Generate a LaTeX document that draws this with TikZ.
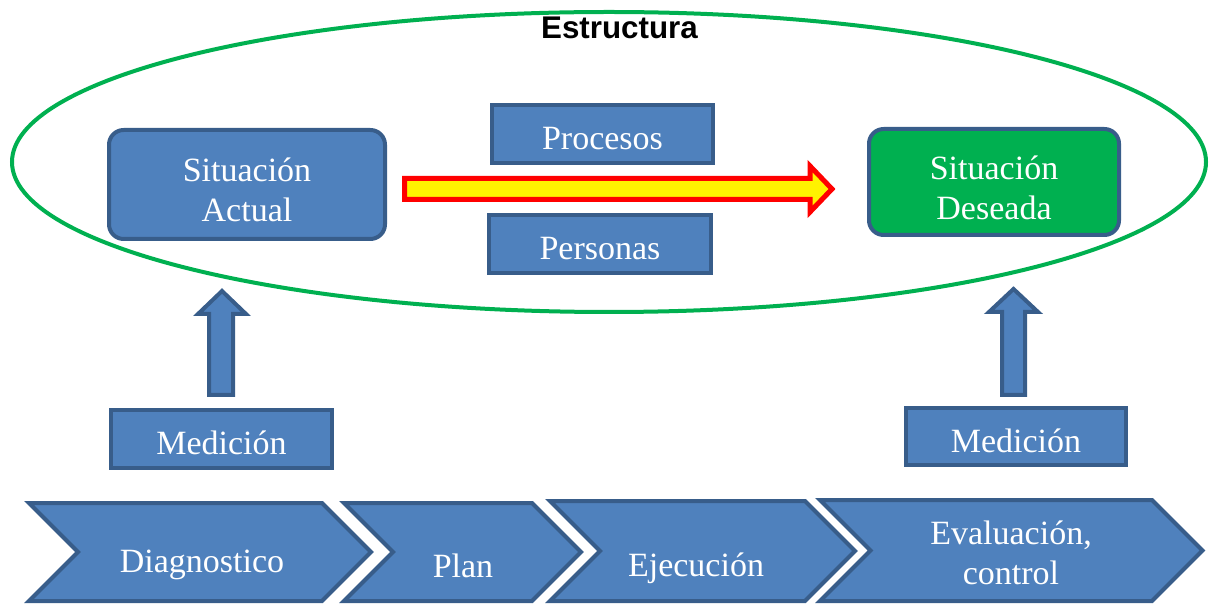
\documentclass[tikz,border=0pt]{standalone}
\usepackage{fontspec}
\setmainfont{Liberation Serif}
\newfontfamily\headfont{Liberation Sans}
\usetikzlibrary{shapes.geometric}
\definecolor{boxblue}{RGB}{79,129,189}
\definecolor{edgeblue}{RGB}{56,93,138}
\definecolor{estgreen}{RGB}{0,176,80}
\begin{document}
\begin{tikzpicture}[x=0.75pt,y=-0.75pt,
  txt/.style={text=white, font=\fontsize{25.5}{30}\selectfont, align=center, inner sep=0pt},
  blk/.style={txt, draw=edgeblue, fill=boxblue, line width=3pt, text height=24pt, text depth=0pt},
  rbox/.style={blk, rounded corners=11pt, text height=56pt},
  shapeblue/.style={draw=edgeblue, fill=boxblue, line width=3pt, line join=miter},
  bigarrow/.style={draw=red, fill=yellow, line width=3.75pt, line join=miter}
]
\useasboundingbox (0,0) rectangle (1209,605);

% frame ellipse
\node[ellipse, draw=estgreen, line width=3pt, inner sep=0pt,
      minimum width=895.5pt, minimum height=225pt] (frame) at (609,162) {};
\node[font=\headfont\bfseries\fontsize{23.5}{27}\selectfont, inner sep=0pt] (title) at (619.5,28) {Estructura};

% boxes
\node[rbox, minimum width=207pt, minimum height=81.75pt] (actual) at (247,184.5) {Situación\\Actual};
\node[rbox, fill=estgreen, minimum width=187.5pt, minimum height=79.5pt] (deseada) at (994,182) {Situación\\Deseada};
\node[blk, minimum width=165.75pt, minimum height=43.5pt] (procesos) at (602.5,134) {Procesos};
\node[blk, minimum width=166.5pt, minimum height=43.5pt] (personas) at (600,244) {Personas};
\node[blk, minimum width=165.75pt, minimum height=43.5pt] (medL) at (221.5,439) {Medición};
\node[blk, minimum width=165pt, minimum height=42.75pt] (medR) at (1016,436.5) {Medición};

% yellow block arrow
\draw[bigarrow] (404.5,178.5) -- (810,178.5) -- (810,166) -- (832,189) -- (810,212) -- (810,199.5) -- (404.5,199.5) -- cycle;

% up block arrows
\draw[shapeblue] (209,395) -- (209,314) -- (198,314) -- (222,291) -- (246,314) -- (233,314) -- (233,395) -- cycle;
\draw[shapeblue] (1002,395) -- (1002,312) -- (989,312) -- (1013.5,289) -- (1038,312) -- (1025,312) -- (1025,395) -- cycle;

% chevrons
\draw[shapeblue] (29,503) -- (322,503) -- (371,552) -- (322,601) -- (29,601) -- (78,552) -- cycle;
\draw[shapeblue] (344,503) -- (532,503) -- (581,552) -- (532,601) -- (344,601) -- (393,552) -- cycle;
\draw[shapeblue] (550,501) -- (805,501) -- (855,551) -- (805,601) -- (550,601) -- (600,551) -- cycle;
\draw[shapeblue] (820,500) -- (1152,500) -- (1202.5,550.5) -- (1152,601) -- (820,601) -- (870.5,550.5) -- cycle;

\node[txt, anchor=base] (diag) at (202,572) {Diagnostico};
\node[txt, anchor=base] (plan) at (463,577) {Plan};
\node[txt, anchor=base] (ejec) at (696,576) {Ejecución};
\node[txt] (eval) at (1011,553) {Evaluación,\\control};
\end{tikzpicture}
\end{document}
